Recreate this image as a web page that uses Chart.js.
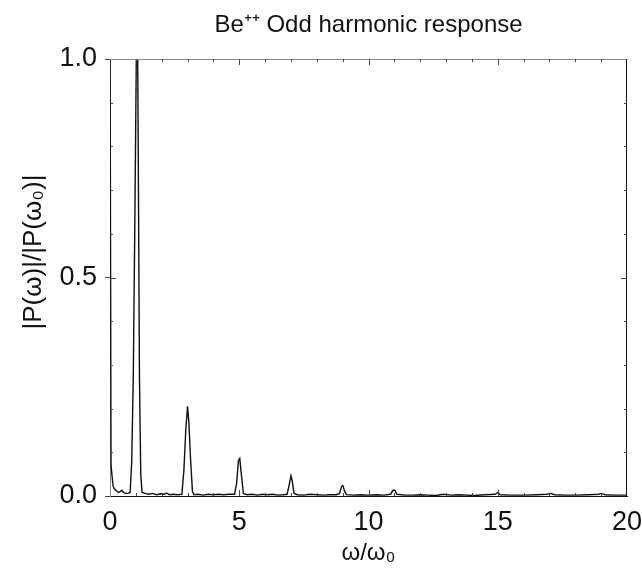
<!DOCTYPE html>
<html>
<head>
<meta charset="utf-8">
<script src="https://cdn.jsdelivr.net/npm/chart.js@4.4.1/dist/chart.umd.min.js"></script>
<style>
  html, body { margin: 0; padding: 0; background: #fff; }
  #wrap { width: 642px; height: 570px; }
</style>
</head>
<body>
<div id="wrap"><canvas id="harmonics"></canvas></div>
<script>
// frequency in units of w0, and normalised response |P(w)|/|P(w0)|
var omega = [
  0.00, 0.04, 0.08, 0.12, 0.18, 0.25, 0.32, 0.40, 0.46, 0.52, 0.60, 0.70,
  0.78, 0.84, 0.90, 0.96, 1.02, 1.07, 1.11, 1.14, 1.19, 1.24,
  1.35, 1.50, 1.65, 1.80, 1.95, 2.10, 2.18, 2.30, 2.45, 2.60,
  2.78, 2.86, 2.93, 3.00, 3.05, 3.12, 3.19, 3.25,
  3.40, 3.60, 3.80, 4.00, 4.20, 4.40, 4.60,
  4.82, 4.90, 4.97, 5.02, 5.08, 5.16,
  5.30, 5.50, 5.70, 5.90, 6.10, 6.30, 6.50, 6.70,
  6.85, 6.93, 7.00, 7.05, 7.12,
  7.25, 7.50, 7.75, 8.00, 8.25, 8.50, 8.75,
  8.88, 8.96, 9.01, 9.08, 9.15,
  9.40, 9.70, 10.0, 10.3, 10.6,
  10.85, 10.95, 11.02, 11.10,
  11.4, 11.7, 12.0, 12.3, 12.6, 12.9, 13.2, 13.5, 13.8, 14.1, 14.5,
  14.9, 15.0, 15.1,
  15.5, 16.0, 16.5, 16.9, 17.05, 17.2, 17.6, 18.0, 18.5,
  18.9, 19.0, 19.15, 19.5, 20.0
];
var response = [
  1.10, 0.070, 0.045, 0.022, 0.016, 0.012, 0.008, 0.010, 0.013, 0.008, 0.006, 0.006,
  0.008, 0.080, 0.270, 0.620, 1.020, 1.020, 0.600, 0.270, 0.050, 0.008,
  0.006, 0.004, 0.006, 0.003, 0.005, 0.004, 0.007, 0.003, 0.004, 0.003,
  0.004, 0.060, 0.150, 0.205, 0.170, 0.080, 0.010, 0.003,
  0.004, 0.002, 0.004, 0.003, 0.004, 0.003, 0.004,
  0.004, 0.030, 0.082, 0.086, 0.050, 0.006,
  0.003, 0.004, 0.002, 0.004, 0.003, 0.004, 0.002, 0.003,
  0.004, 0.025, 0.046, 0.035, 0.006,
  0.003, 0.002, 0.004, 0.003, 0.002, 0.003, 0.003,
  0.006, 0.022, 0.024, 0.010, 0.003,
  0.002, 0.003, 0.002, 0.003, 0.002,
  0.004, 0.013, 0.013, 0.004,
  0.002, 0.002, 0.003, 0.002, 0.001, 0.004, 0.002, 0.003, 0.002, 0.001, 0.003,
  0.004, 0.008, 0.003,
  0.002, 0.002, 0.003, 0.004, 0.006, 0.003, 0.002, 0.002, 0.003,
  0.004, 0.006, 0.003, 0.002, 0.002
];
var xTicks = [0, 5, 10, 15, 20];
var yTicks = [0.0, 0.5, 1.0];
var titleText = 'Be\u207A\u207A Odd harmonic response';
var yLabel = '|P(\u03C9)|/|P(\u03C9\u2080)|';
var xLabel = '\u03C9/\u03C9\u2080';

var points = omega.map(function (w, i) { return {x: w, y: response[i]}; });

var FONT = "'Liberation Sans', Arial, Helvetica, sans-serif";

// top/right frame plus the small inward ticks
var frame = {
  id: 'frame',
  afterDraw: function (chart) {
    var c = chart.ctx, a = chart.chartArea;
    var sx = chart.scales.x, sy = chart.scales.y;
    c.save();
    c.lineWidth = 1;
    c.strokeStyle = '#8a8a8a';
    c.beginPath(); c.moveTo(a.left, a.top + 0.5); c.lineTo(a.right, a.top + 0.5); c.stroke();
    c.strokeStyle = '#111';
    c.beginPath(); c.moveTo(a.right - 0.5, a.top); c.lineTo(a.right - 0.5, a.bottom); c.stroke();
    c.strokeStyle = '#444';
    for (var v = 1; v < 20; v++) {
      var px = Math.round(sx.getPixelForValue(v)) + 0.5;
      var len = (v % 5 === 0) ? 6 : 3;
      c.beginPath(); c.moveTo(px, a.top); c.lineTo(px, a.top + len); c.stroke();
      c.beginPath(); c.moveTo(px, a.bottom); c.lineTo(px, a.bottom - len); c.stroke();
    }
    for (var k = 1; k < 10; k++) {
      var py = Math.round(sy.getPixelForValue(k / 10)) + 0.5;
      var l2 = (k === 5) ? 6 : 3;
      c.beginPath(); c.moveTo(a.left, py); c.lineTo(a.left + l2, py); c.stroke();
      c.beginPath(); c.moveTo(a.right, py); c.lineTo(a.right - l2, py); c.stroke();
    }
    c.restore();
  }
};

// title over the plot area, y label sits a little above the axis centre
var labels = {
  id: 'labels',
  afterDraw: function (chart) {
    var c = chart.ctx, a = chart.chartArea;
    c.save();
    c.fillStyle = '#111';
    c.font = '24px ' + FONT;
    c.textAlign = 'center';
    c.textBaseline = 'middle';
    c.fillText(titleText, (a.left + a.right) / 2, 25);
    c.translate(34, 252);
    c.rotate(-Math.PI / 2);
    c.font = '26px ' + FONT;
    c.fillText(yLabel, 0, 0);
    c.restore();
  }
};

new Chart(document.getElementById('harmonics'), {
  type: 'line',
  data: {
    datasets: [{
      data: points,
      borderColor: '#111',
      borderWidth: 1.4,
      pointRadius: 0,
      tension: 0,
      fill: false
    }]
  },
  options: {
    responsive: true,
    maintainAspectRatio: false,
    animation: false,
    layout: { padding: { top: 59, right: 15, bottom: 0, left: 0 } },
    plugins: {
      legend: { display: false },
      tooltip: { enabled: false }
    },
    scales: {
      x: {
        type: 'linear',
        min: 0, max: 20,
        afterBuildTicks: function (s) { s.ticks = xTicks.map(function (v) { return {value: v}; }); },
        afterFit: function (s) { s.height = 74; s.paddingRight = 0; s.paddingLeft = 0; },
        grid: { drawOnChartArea: false, drawTicks: false },
        border: { color: '#111', width: 1 },
        ticks: { color: '#111', font: { family: FONT, size: 27 }, padding: 10, maxRotation: 0 },
        title: { display: true, text: xLabel, color: '#111',
                 font: { family: FONT, size: 24 }, padding: { top: 0, bottom: 2 } }
      },
      y: {
        min: 0, max: 1,
        afterBuildTicks: function (s) { s.ticks = yTicks.map(function (v) { return {value: v}; }); },
        afterFit: function (s) { s.width = 110; s.paddingTop = 0; s.paddingBottom = 0; },
        grid: { drawOnChartArea: false, drawTicks: true, tickLength: 5, color: '#444' },
        border: { color: '#8a8a8a', width: 1 },
        ticks: { color: '#111', font: { family: FONT, size: 27 }, padding: 8,
                 callback: function (v) { return v.toFixed(1); } }
      }
    }
  },
  plugins: [frame, labels]
});
</script>
</body>
</html>
